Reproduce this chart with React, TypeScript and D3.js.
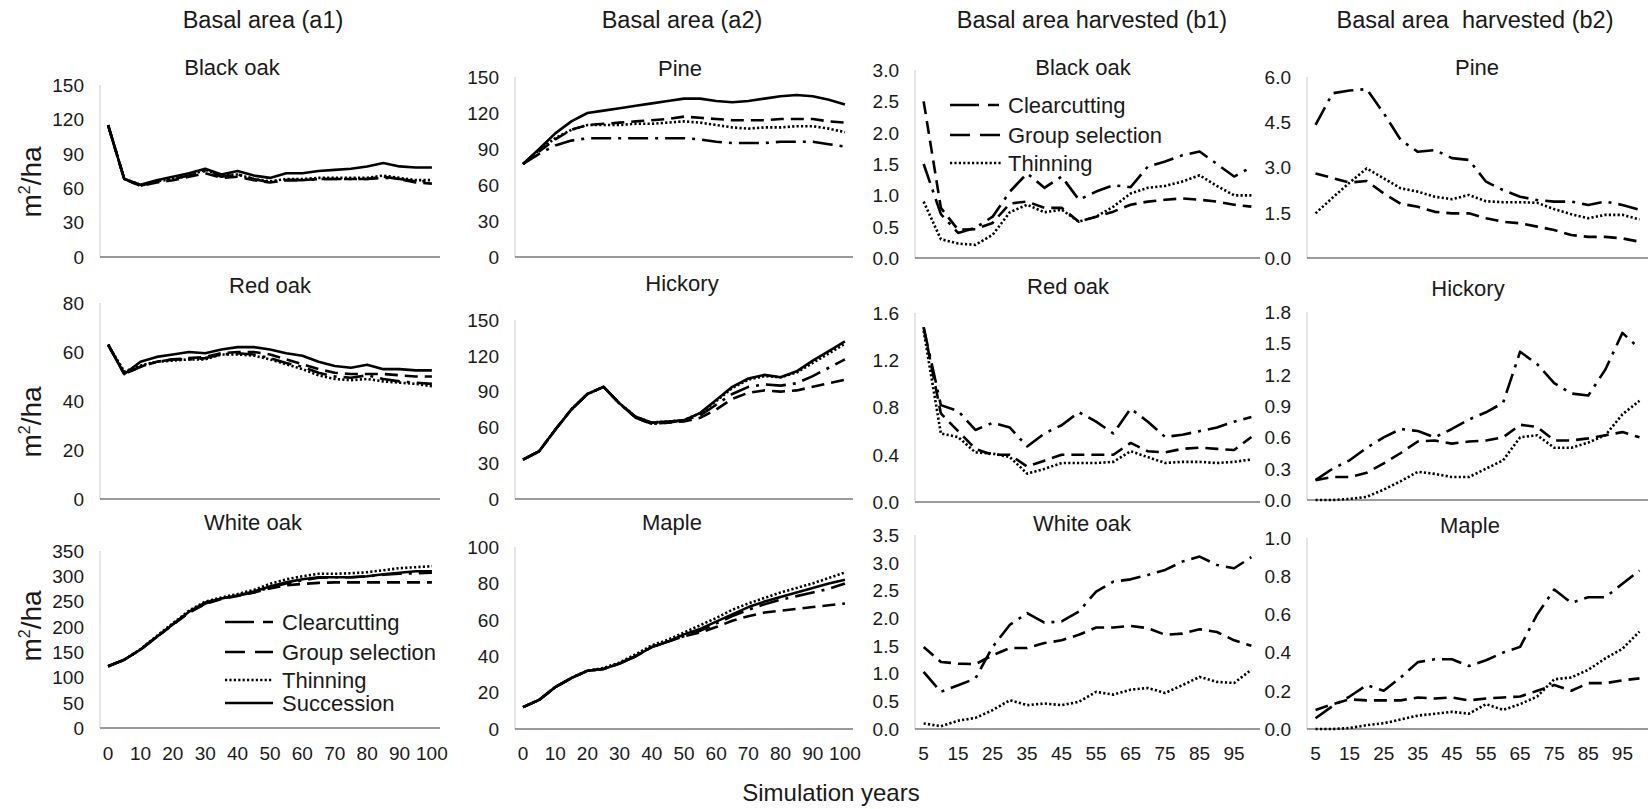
import React from "react";
import * as d3 from "d3";

// ---------- categories & ticks ----------
const yearsBA = [0, 5, 10, 15, 20, 25, 30, 35, 40, 45, 50, 55, 60, 65, 70, 75, 80, 85, 90, 95, 100];
const yearsHarv = [5, 10, 15, 20, 25, 30, 35, 40, 45, 50, 55, 60, 65, 70, 75, 80, 85, 90, 95, 100];
const tickYearsBA = [0, 10, 20, 30, 40, 50, 60, 70, 80, 90, 100];
const tickYearsHarv = [5, 15, 25, 35, 45, 55, 65, 75, 85, 95];

const treatments = ["Clearcutting", "Group selection", "Thinning", "Succession"];

// ---------- basal area (a1) ----------
const blackOakCC = [115, 68, 62, 66, 68, 71, 75, 70, 72, 68, 65, 67, 67, 68, 68, 68, 68, 69, 68, 66, 66];
const blackOakGS = [115, 68, 62, 65, 67, 70, 73, 69, 70, 67, 65, 67, 67, 68, 68, 68, 68, 70, 68, 65, 64];
const blackOakTH = [115, 68, 63, 66, 68, 71, 76, 71, 72, 68, 66, 68, 68, 69, 69, 69, 69, 71, 69, 67, 67];
const blackOakSU = [115, 68, 63, 67, 70, 73, 77, 72, 75, 71, 69, 73, 73, 75, 76, 77, 79, 82, 79, 78, 78];

const redOakCC = [63, 51, 54, 56, 57, 57, 57.5, 59, 59.5, 59, 57.5, 55.5, 54, 51.5, 50, 49.5, 50.5, 49, 48, 47.5, 47];
const redOakGS = [63, 51, 54, 56, 57, 57.5, 58, 59.5, 60, 60, 59, 57, 55, 53, 51.5, 51, 51, 51, 50.5, 50, 50];
const redOakTH = [63, 52, 54.5, 56, 56.5, 57, 57, 59, 59, 58.5, 57, 55, 53, 50.5, 49, 48.5, 49, 48, 47.5, 47, 46];
const redOakSU = [63, 51, 56, 58, 59, 60, 59.5, 61, 62, 62, 61, 59.5, 58.5, 56, 54.3, 53.6, 54.8, 53, 53, 52.5, 52.5];

const whiteOakCC = [122, 135, 155, 180, 205, 229, 246, 256, 262, 268, 278, 286, 292, 297, 298, 298, 300, 303, 305, 306, 307];
const whiteOakGS = [122, 135, 155, 180, 204, 228, 245, 255, 261, 268, 276, 282, 285, 287, 288, 288, 288, 288, 288, 288, 288];
const whiteOakTH = [122, 135, 156, 182, 207, 232, 250, 258, 265, 273, 285, 294, 300, 305, 305, 306, 308, 312, 316, 318, 320];
const whiteOakSU = [122, 135, 155, 180, 205, 230, 248, 256, 262, 270, 280, 288, 294, 298, 298, 298, 300, 304, 307, 310, 310];

// ---------- basal area (a2) ----------
const pineCC = [77.5, 86, 93, 97, 99, 99, 99, 99, 99, 99, 99, 98, 96, 95, 95, 95, 96, 96, 96, 94, 92];
const pineGS = [77.5, 88, 98, 106, 110, 111, 112, 113, 114, 115, 117, 116, 115, 114, 114, 114, 115, 115, 115, 113, 112];
const pineTH = [77.5, 89, 99, 106, 110, 110, 110, 111, 111, 112, 113, 112, 110, 108, 107, 108, 108, 109, 109, 107, 104];
const pineSU = [77.5, 90, 103, 113, 120, 122, 124, 126, 128, 130, 132, 132, 130, 129, 130, 132, 134, 135, 134, 131, 127];

const hickoryCC = [33, 40, 58, 75, 88, 94, 80, 68, 63, 64, 66, 70, 79, 88, 94, 96, 95, 97, 103, 110, 117];
const hickoryGS = [33, 40, 58, 75, 88, 94, 80, 68, 63, 64, 65, 68, 75, 84, 89, 91, 90, 91, 94, 97, 100];
const hickoryTH = [33, 40, 58, 75, 88, 94, 80, 69, 64, 65, 66, 72, 82, 93, 100, 103, 102, 106, 114, 122, 130];
const hickorySU = [33, 40, 58, 75, 88, 94, 80, 69, 64, 65, 66, 72, 83, 94, 101, 104, 102, 107, 116, 124, 132];

const mapleCC = [12, 16, 23, 28, 32, 33, 36, 40, 45, 48, 51, 54, 58, 62, 65.5, 68.5, 71, 73, 75, 77, 80];
const mapleGS = [12, 16, 23, 28, 32, 33, 36, 40, 45, 48, 51, 53, 56, 59.5, 62, 64, 65, 66, 67, 68, 69];
const mapleTH = [12, 16, 23, 28, 32, 33.5, 36.5, 41, 46, 49, 53, 57, 61, 65.5, 69, 72, 75, 77.5, 80, 83, 86];
const mapleSU = [12, 16, 23, 28, 32, 33, 36, 40, 45, 48, 52, 55, 59, 63, 67, 70, 72.5, 75, 77.5, 80, 82];

// ---------- basal area harvested (b1) ----------
const hBlackOakCC = [1.5, 0.7, 0.4, 0.48, 0.66, 1.06, 1.35, 1.12, 1.3, 0.93, 1.06, 1.16, 1.13, 1.46, 1.54, 1.64, 1.7, 1.5, 1.3, 1.45];
const hBlackOakGS = [2.5, 0.8, 0.45, 0.46, 0.56, 0.87, 0.9, 0.8, 0.8, 0.58, 0.66, 0.74, 0.85, 0.9, 0.93, 0.95, 0.93, 0.9, 0.85, 0.82];
const hBlackOakTH = [0.9, 0.3, 0.23, 0.21, 0.37, 0.73, 0.85, 0.73, 0.77, 0.58, 0.66, 0.82, 1.03, 1.12, 1.15, 1.22, 1.32, 1.15, 1.0, 1.0];

const hRedOakCC = [1.48, 0.82, 0.77, 0.61, 0.67, 0.63, 0.47, 0.58, 0.65, 0.76, 0.68, 0.58, 0.79, 0.68, 0.55, 0.57, 0.6, 0.63, 0.68, 0.72];
const hRedOakGS = [1.48, 0.75, 0.6, 0.45, 0.4, 0.4, 0.3, 0.35, 0.4, 0.4, 0.4, 0.4, 0.5, 0.43, 0.42, 0.45, 0.46, 0.45, 0.44, 0.55];
const hRedOakTH = [1.45, 0.58, 0.55, 0.42, 0.41, 0.38, 0.24, 0.28, 0.33, 0.33, 0.33, 0.34, 0.43, 0.38, 0.33, 0.34, 0.34, 0.33, 0.34, 0.36];

const hWhiteOakCC = [1.03, 0.67, 0.79, 0.91, 1.48, 1.88, 2.09, 1.92, 1.94, 2.12, 2.48, 2.66, 2.7, 2.78, 2.87, 3.02, 3.11, 2.96, 2.9, 3.1];
const hWhiteOakGS = [1.48, 1.21, 1.18, 1.17, 1.33, 1.46, 1.46, 1.55, 1.6, 1.7, 1.83, 1.83, 1.86, 1.82, 1.7, 1.72, 1.8, 1.75, 1.6, 1.5];
const hWhiteOakTH = [0.1, 0.05, 0.15, 0.2, 0.34, 0.52, 0.43, 0.46, 0.43, 0.49, 0.67, 0.62, 0.71, 0.74, 0.65, 0.79, 0.94, 0.85, 0.83, 1.07];

// ---------- basal area harvested (b2) ----------
const hPineCC = [4.41, 5.46, 5.55, 5.6, 4.8, 3.91, 3.52, 3.58, 3.31, 3.25, 2.53, 2.25, 2.03, 1.92, 1.87, 1.87, 1.76, 1.87, 1.76, 1.6];
const hPineGS = [2.8, 2.65, 2.5, 2.55, 2.14, 1.8, 1.7, 1.53, 1.48, 1.48, 1.32, 1.2, 1.15, 1.04, 0.93, 0.76, 0.7, 0.7, 0.65, 0.54];
const hPineTH = [1.48, 2.0, 2.5, 2.97, 2.64, 2.31, 2.2, 2.03, 1.95, 2.09, 1.88, 1.85, 1.85, 1.83, 1.62, 1.45, 1.32, 1.43, 1.43, 1.28];

const hHickoryCC = [0.19, 0.3, 0.38, 0.5, 0.6, 0.68, 0.66, 0.6, 0.68, 0.77, 0.84, 0.93, 1.42, 1.3, 1.12, 1.02, 1.0, 1.25, 1.6, 1.45];
const hHickoryGS = [0.19, 0.22, 0.22, 0.26, 0.35, 0.45, 0.56, 0.57, 0.54, 0.56, 0.57, 0.6, 0.72, 0.7, 0.57, 0.57, 0.59, 0.62, 0.65, 0.6];
const hHickoryTH = [0, 0, 0.01, 0.03, 0.1, 0.18, 0.27, 0.25, 0.22, 0.22, 0.3, 0.38, 0.6, 0.62, 0.5, 0.5, 0.55, 0.62, 0.82, 0.95];

const hMapleCC = [0.056, 0.12, 0.17, 0.23, 0.2, 0.27, 0.35, 0.365, 0.365, 0.33, 0.36, 0.4, 0.43, 0.6, 0.73, 0.66, 0.69, 0.69, 0.76, 0.83];
const hMapleGS = [0.1, 0.13, 0.155, 0.15, 0.15, 0.15, 0.165, 0.16, 0.165, 0.15, 0.16, 0.165, 0.17, 0.2, 0.23, 0.2, 0.24, 0.24, 0.255, 0.265];
const hMapleTH = [0, 0, 0.005, 0.02, 0.03, 0.05, 0.07, 0.08, 0.09, 0.08, 0.13, 0.1, 0.13, 0.17, 0.26, 0.27, 0.31, 0.37, 0.42, 0.51];

// ---------- y tick values ----------
const ticks150 = [0, 30, 60, 90, 120, 150];
const ticks80 = [0, 20, 40, 60, 80];
const ticks350 = [0, 50, 100, 150, 200, 250, 300, 350];
const ticks100 = [0, 20, 40, 60, 80, 100];
const ticks3 = [0, 0.5, 1, 1.5, 2, 2.5, 3];
const ticks16 = [0, 0.4, 0.8, 1.2, 1.6];
const ticks35 = [0, 0.5, 1, 1.5, 2, 2.5, 3, 3.5];
const ticks6 = [0, 1.5, 3, 4.5, 6];
const ticks18 = [0, 0.3, 0.6, 0.9, 1.2, 1.5, 1.8];
const ticks1 = [0, 0.2, 0.4, 0.6, 0.8, 1];

// ---------- layout ----------
const FONT = "'Liberation Sans', Arial, Helvetica, sans-serif";
const TEXT = "#1a1a1a";

const columns = [
  { title: "Basal area (a1)", titleX: 263, x0: 100, x1: 440, years: yearsBA, xTicks: tickYearsBA, fmt: d3.format("d") },
  { title: "Basal area (a2)", titleX: 682, x0: 515, x1: 853, years: yearsBA, xTicks: tickYearsBA, fmt: d3.format("d") },
  { title: "Basal area harvested (b1)", titleX: 1092, x0: 915, x1: 1260, years: yearsHarv, xTicks: tickYearsHarv, fmt: d3.format(".1f") },
  { title: "Basal area  harvested (b2)", titleX: 1475, x0: 1307, x1: 1648, years: yearsHarv, xTicks: tickYearsHarv, fmt: d3.format(".1f") },
];

type PanelDef = {
  col: number;
  row: number;
  name: string;
  nameX: number;
  nameY: number;
  yTop: number;
  yBot: number;
  yTicks: number[];
  series: number[][];
};

const panels: PanelDef[] = [
  { col: 0, row: 0, name: "Black oak", nameX: 232, nameY: 67, yTop: 85, yBot: 257, yTicks: ticks150, series: [blackOakCC, blackOakGS, blackOakTH, blackOakSU] },
  { col: 0, row: 1, name: "Red oak", nameX: 270, nameY: 285, yTop: 303, yBot: 499, yTicks: ticks80, series: [redOakCC, redOakGS, redOakTH, redOakSU] },
  { col: 0, row: 2, name: "White oak", nameX: 253, nameY: 522, yTop: 551, yBot: 728, yTicks: ticks350, series: [whiteOakCC, whiteOakGS, whiteOakTH, whiteOakSU] },
  { col: 1, row: 0, name: "Pine", nameX: 680, nameY: 68, yTop: 77, yBot: 257, yTicks: ticks150, series: [pineCC, pineGS, pineTH, pineSU] },
  { col: 1, row: 1, name: "Hickory", nameX: 682, nameY: 283, yTop: 320, yBot: 499, yTicks: ticks150, series: [hickoryCC, hickoryGS, hickoryTH, hickorySU] },
  { col: 1, row: 2, name: "Maple", nameX: 672, nameY: 522, yTop: 547, yBot: 729, yTicks: ticks100, series: [mapleCC, mapleGS, mapleTH, mapleSU] },
  { col: 2, row: 0, name: "Black oak", nameX: 1083, nameY: 67, yTop: 70, yBot: 258, yTicks: ticks3, series: [hBlackOakCC, hBlackOakGS, hBlackOakTH] },
  { col: 2, row: 1, name: "Red oak", nameX: 1068, nameY: 286, yTop: 313, yBot: 502, yTicks: ticks16, series: [hRedOakCC, hRedOakGS, hRedOakTH] },
  { col: 2, row: 2, name: "White oak", nameX: 1082, nameY: 523, yTop: 535, yBot: 729, yTicks: ticks35, series: [hWhiteOakCC, hWhiteOakGS, hWhiteOakTH] },
  { col: 3, row: 0, name: "Pine", nameX: 1477, nameY: 67, yTop: 77, yBot: 258, yTicks: ticks6, series: [hPineCC, hPineGS, hPineTH] },
  { col: 3, row: 1, name: "Hickory", nameX: 1468, nameY: 288, yTop: 312, yBot: 500, yTicks: ticks18, series: [hHickoryCC, hHickoryGS, hHickoryTH] },
  { col: 3, row: 2, name: "Maple", nameX: 1470, nameY: 525, yTop: 538, yBot: 729, yTicks: ticks1, series: [hMapleCC, hMapleGS, hMapleTH] },
];

// stroke patterns per treatment, in treatment order
const dashes = ["20,7,3,7", "13,7", "2.2,2.2", null];
const legendDashes = ["29,9,11", "20,10", "2.2,2.2", null];
const LINE_W = 2.6;

const yLabelCenters = [182, 422, 626];

function Panel({ p }: { p: PanelDef }) {
  const col = columns[p.col];
  const x = d3.scalePoint<number>().domain(col.years).range([col.x0, col.x1]).padding(0.5);
  const yMax = p.yTicks[p.yTicks.length - 1];
  const y = d3.scaleLinear().domain([0, yMax]).range([p.yBot, p.yTop]);
  const line = d3
    .line<number>()
    .x((_, i) => x(col.years[i]) as number)
    .y((d) => y(d));

  return (
    <g>
      <text x={p.nameX} y={p.nameY} dy="0.36em" textAnchor="middle" fontSize={22} fill={TEXT} fontFamily={FONT}>
        {p.name}
      </text>
      {/* y axis */}
      <line x1={col.x0} x2={col.x0} y1={p.yTop} y2={p.yBot} stroke="#d4d4d4" strokeWidth={1.2} />
      {p.yTicks.map((t) => (
        <text key={t} x={col.x0 - 16} y={y(t)} dy="0.36em" textAnchor="end" fontSize={19} fill={TEXT} fontFamily={FONT}>
          {col.fmt(t)}
        </text>
      ))}
      {/* x axis */}
      <line x1={col.x0} x2={col.x1} y1={p.yBot} y2={p.yBot} stroke="#7a7a7a" strokeWidth={1.6} />
      {p.row === 2 &&
        col.xTicks.map((t) => (
          <text key={t} x={x(t)} y={753} dy="0.36em" textAnchor="middle" fontSize={19} fill={TEXT} fontFamily={FONT}>
            {t}
          </text>
        ))}
      {p.series.map((s, i) => (
        <path
          key={i}
          d={line(s) || ""}
          fill="none"
          stroke="#000"
          strokeWidth={LINE_W}
          strokeDasharray={dashes[i] || undefined}
          strokeLinejoin="round"
        />
      ))}
    </g>
  );
}

function Legend({ x0, x1, tx, rows, count }: { x0: number; x1: number; tx: number; rows: number[]; count: number }) {
  return (
    <g>
      {treatments.slice(0, count).map((name, i) => (
        <g key={name}>
          <line
            x1={x0}
            x2={x1}
            y1={rows[i]}
            y2={rows[i]}
            stroke="#000"
            strokeWidth={LINE_W}
            strokeDasharray={legendDashes[i] || undefined}
          />
          <text x={tx} y={rows[i]} dy="0.36em" fontSize={22} fill={TEXT} fontFamily={FONT}>
            {name}
          </text>
        </g>
      ))}
    </g>
  );
}

export default function App() {
  return (
    <svg
      width={1650}
      height={809}
      viewBox="0 0 1650 809"
      style={{ position: "absolute", left: 0, top: 0, background: "#fff" }}
    >
      <rect x={0} y={0} width={1650} height={809} fill="#fff" />
      {columns.map((c) => (
        <text key={c.title} x={c.titleX} y={20} dy="0.36em" textAnchor="middle" fontSize={23.5} fill={TEXT} fontFamily={FONT} xmlSpace="preserve">
          {c.title}
        </text>
      ))}
      {yLabelCenters.map((cy, i) => (
        <text
          key={i}
          transform={`translate(41,${cy}) rotate(-90)`}
          textAnchor="middle"
          fontSize={28}
          fill={TEXT}
          fontFamily={FONT}
        >
          <tspan>m</tspan>
          <tspan dy={-11} fontSize={16}>2</tspan>
          <tspan dy={11}>/ha</tspan>
        </text>
      ))}
      {panels.map((p, i) => (
        <Panel key={i} p={p} />
      ))}
      <Legend x0={225} x1={273} tx={282} rows={[622, 652, 680, 703]} count={4} />
      <Legend x0={950} x1={1002} tx={1008} rows={[105, 135, 163]} count={3} />
      <text x={831} y={792} dy="0.36em" textAnchor="middle" fontSize={24} fill={TEXT} fontFamily={FONT}>
        Simulation years
      </text>
    </svg>
  );
}
